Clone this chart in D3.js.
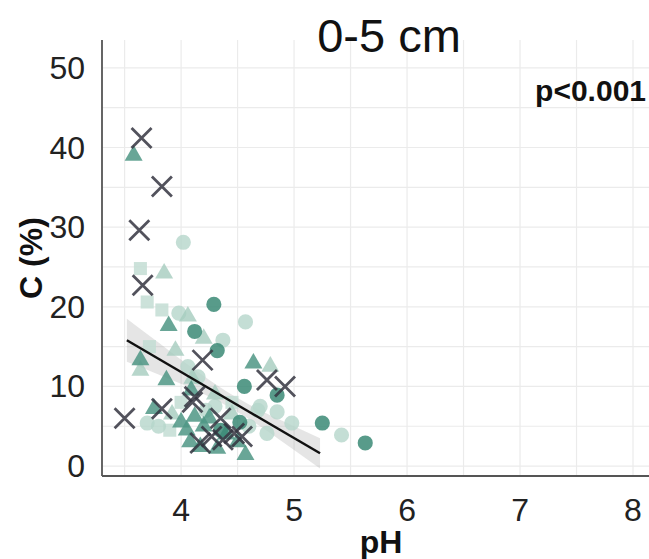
<!DOCTYPE html>
<html>
<head>
<meta charset="utf-8">
<script src="https://cdn.jsdelivr.net/npm/d3@7"></script>
<style>
  body { margin: 0; background: #fff; }
  svg { font-family: "Liberation Sans", Arial, sans-serif; }
</style>
</head>
<body>
<div class="bigboard"></div>
<script>
// tick labels
var xTicks = [4, 5, 6, 7, 8];
var yTicks = [0, 10, 20, 30, 40, 50];

// crosses (dark grey)
var crossPts = [
  [3.65, 41.2], [3.83, 35.1], [3.63, 29.6], [3.66, 22.7], [4.19, 13.3],
  [4.12, 8.7], [3.50, 6.0], [3.83, 7.2], [4.35, 6.0], [4.27, 3.7],
  [4.37, 3.3], [4.47, 4.1], [4.54, 3.7], [4.17, 2.9], [4.76, 10.8],
  [4.92, 10.0], [4.10, 8.0]
];
// triangles, mid teal
var triMid = [
  [3.58, 39.0], [3.89, 17.6], [3.64, 13.3], [3.87, 10.8], [3.76, 7.2],
  [4.05, 4.5], [4.09, 9.5], [4.17, 2.4], [4.64, 12.9], [4.57, 1.4],
  [4.25, 6.0], [4.00, 5.5], [4.40, 4.0], [4.50, 3.0], [4.20, 5.0],
  [4.08, 3.0], [4.12, 6.2], [4.32, 2.2]
];
// triangles, light teal
var triLight = [
  [3.85, 24.2], [4.06, 18.8], [4.79, 12.5], [3.64, 12.0], [4.20, 16.0],
  [3.95, 14.5], [4.10, 11.0], [3.92, 6.5], [4.30, 9.0], [4.45, 6.5]
];
// circles, dark teal
var circDark = [
  [4.29, 20.3], [4.12, 16.9], [4.32, 14.5], [4.56, 10.0], [4.85, 8.9],
  [5.25, 5.4], [5.63, 2.9], [4.35, 4.5], [4.52, 5.5]
];
// circles, light teal
var circLight = [
  [4.02, 28.1], [3.98, 19.2], [4.37, 15.8], [4.57, 18.1], [4.68, 7.0],
  [4.85, 6.8], [4.98, 5.4], [5.42, 3.9], [4.76, 4.1], [4.06, 12.5],
  [4.15, 11.2], [3.70, 5.4], [4.30, 7.5], [4.60, 5.0], [4.70, 7.5],
  [4.22, 7.0], [3.80, 5.0]
];
// squares, pale teal
var sqLight = [
  [3.64, 24.8], [3.70, 20.6], [3.83, 19.6], [3.72, 15.0], [4.00, 8.0],
  [3.90, 4.5], [4.45, 8.0]
];

// regression line + confidence band
var fitPH = [3.52, 3.8, 4.1, 4.4, 4.7, 5.0, 5.23];
var fitC = [15.8, 13.48, 10.99, 8.5, 6.01, 3.51, 1.6];
var bandHi = [18.5, 15.5, 12.3, 9.4, 7.0, 5.0, 3.5];
var bandLo = [13.1, 11.5, 9.7, 7.6, 5.0, 2.0, -0.3];

var W = 649, H = 559;

var svg = d3.select('.bigboard').append('svg')
  .attr('width', W)
  .attr('height', H)

var x = d3.scaleLinear().domain([3.3, 8.2]).range([102, 655.6]);
var y = d3.scaleLinear().domain([-1.25, 53.5]).range([476, 40]);

// grid (major + minor)
var xGrid = d3.range(3.5, 8.01, 0.5);
var yGrid = d3.range(0, 50.1, 5);

svg.selectAll('.vgrid')
  .data(xGrid).enter().append('line')
  .attr('class', 'vgrid')
  .attr('x1', function(d){ return x(d) })
  .attr('x2', function(d){ return x(d) })
  .attr('y1', y.range()[1])
  .attr('y2', y.range()[0])
  .attr('stroke', '#ebebeb')
  .attr('stroke-width', 1.2)

svg.selectAll('.hgrid')
  .data(yGrid).enter().append('line')
  .attr('class', 'hgrid')
  .attr('x1', x.range()[0])
  .attr('x2', W)
  .attr('y1', function(d){ return y(d) })
  .attr('y2', function(d){ return y(d) })
  .attr('stroke', '#ebebeb')
  .attr('stroke-width', 1.2)

// confidence band
var band = fitPH.map(function(d, i){ return [d, bandLo[i], bandHi[i]] });
svg.append('path')
  .datum(band)
  .attr('d', d3.area()
    .curve(d3.curveMonotoneX)
    .x(function(d){ return x(d[0]) })
    .y0(function(d){ return y(d[1]) })
    .y1(function(d){ return y(d[2]) }))
  .attr('fill', '#999999')
  .attr('opacity', 0.25)

// points
var drawSym = function(data, type, size, color, op){
  svg.append('g').selectAll('path')
    .data(data).enter().append('path')
    .attr('transform', function(d){ return 'translate(' + x(d[0]) + ',' + y(d[1]) + ')' })
    .attr('d', d3.symbol().type(type).size(size))
    .attr('fill', color)
    .attr('fill-opacity', op)
}

drawSym(sqLight, d3.symbolSquare, 170, '#c3ddd3', 0.85);
drawSym(circLight, d3.symbolCircle, 180, '#b5d6ca', 0.8);
drawSym(triLight, d3.symbolTriangle, 140, '#a5ccbe', 0.8);
drawSym(triMid, d3.symbolTriangle, 140, '#4f9785', 0.85);
drawSym(circDark, d3.symbolCircle, 180, '#3b8a76', 0.85);

var arm = 10;
svg.append('g').selectAll('path')
  .data(crossPts).enter().append('path')
  .attr('transform', function(d){ return 'translate(' + x(d[0]) + ',' + y(d[1]) + ')' })
  .attr('d', 'M' + (-arm) + ',' + (-arm) + 'L' + arm + ',' + arm + 'M' + (-arm) + ',' + arm + 'L' + arm + ',' + (-arm))
  .attr('stroke', '#34343f')
  .attr('stroke-opacity', 0.85)
  .attr('stroke-width', 2.8)
  .attr('fill', 'none')

// regression line
var fit = fitPH.map(function(d, i){ return [d, fitC[i]] });
svg.append('path')
  .datum([fit[0], fit[fit.length - 1]])
  .attr('d', d3.line()
    .x(function(d){ return x(d[0]) })
    .y(function(d){ return y(d[1]) }))
  .attr('stroke', '#111')
  .attr('stroke-width', 2.4)
  .attr('fill', 'none')

// axis lines
svg.append('line')
  .attr('x1', x.range()[0]).attr('x2', x.range()[0])
  .attr('y1', y.range()[1]).attr('y2', y.range()[0])
  .attr('stroke', '#555')
  .attr('stroke-width', 1.8)
svg.append('line')
  .attr('x1', x.range()[0]).attr('x2', W)
  .attr('y1', y.range()[0]).attr('y2', y.range()[0])
  .attr('stroke', '#555')
  .attr('stroke-width', 1.8)

// tick labels
svg.selectAll('.xtick')
  .data(xTicks).enter().append('text')
  .attr('class', 'xtick')
  .attr('x', function(d){ return x(d) })
  .attr('y', 521)
  .attr('text-anchor', 'middle')
  .attr('font-size', '32px')
  .attr('fill', '#222')
  .text(function(d){ return d })

svg.selectAll('.ytick')
  .data(yTicks).enter().append('text')
  .attr('class', 'ytick')
  .attr('x', 85)
  .attr('y', function(d){ return y(d) + 11 })
  .attr('text-anchor', 'end')
  .attr('font-size', '32px')
  .attr('fill', '#222')
  .text(function(d){ return d })

// titles
svg.append('text')
  .attr('x', 389)
  .attr('y', 52)
  .attr('text-anchor', 'middle')
  .attr('font-size', '47px')
  .attr('fill', '#111')
  .text('0-5 cm')

svg.append('text')
  .attr('x', 646)
  .attr('y', 101)
  .attr('text-anchor', 'end')
  .attr('font-size', '30px')
  .attr('font-weight', 'bold')
  .attr('fill', '#111')
  .text('p<0.001')

svg.append('text')
  .attr('x', 381)
  .attr('y', 553)
  .attr('text-anchor', 'middle')
  .attr('font-size', '32px')
  .attr('font-weight', 'bold')
  .attr('fill', '#111')
  .text('pH')

svg.append('text')
  .attr('transform', 'translate(42,258) rotate(-90)')
  .attr('text-anchor', 'middle')
  .attr('font-size', '32px')
  .attr('font-weight', 'bold')
  .attr('fill', '#111')
  .text('C (%)')
</script>
</body>
</html>
